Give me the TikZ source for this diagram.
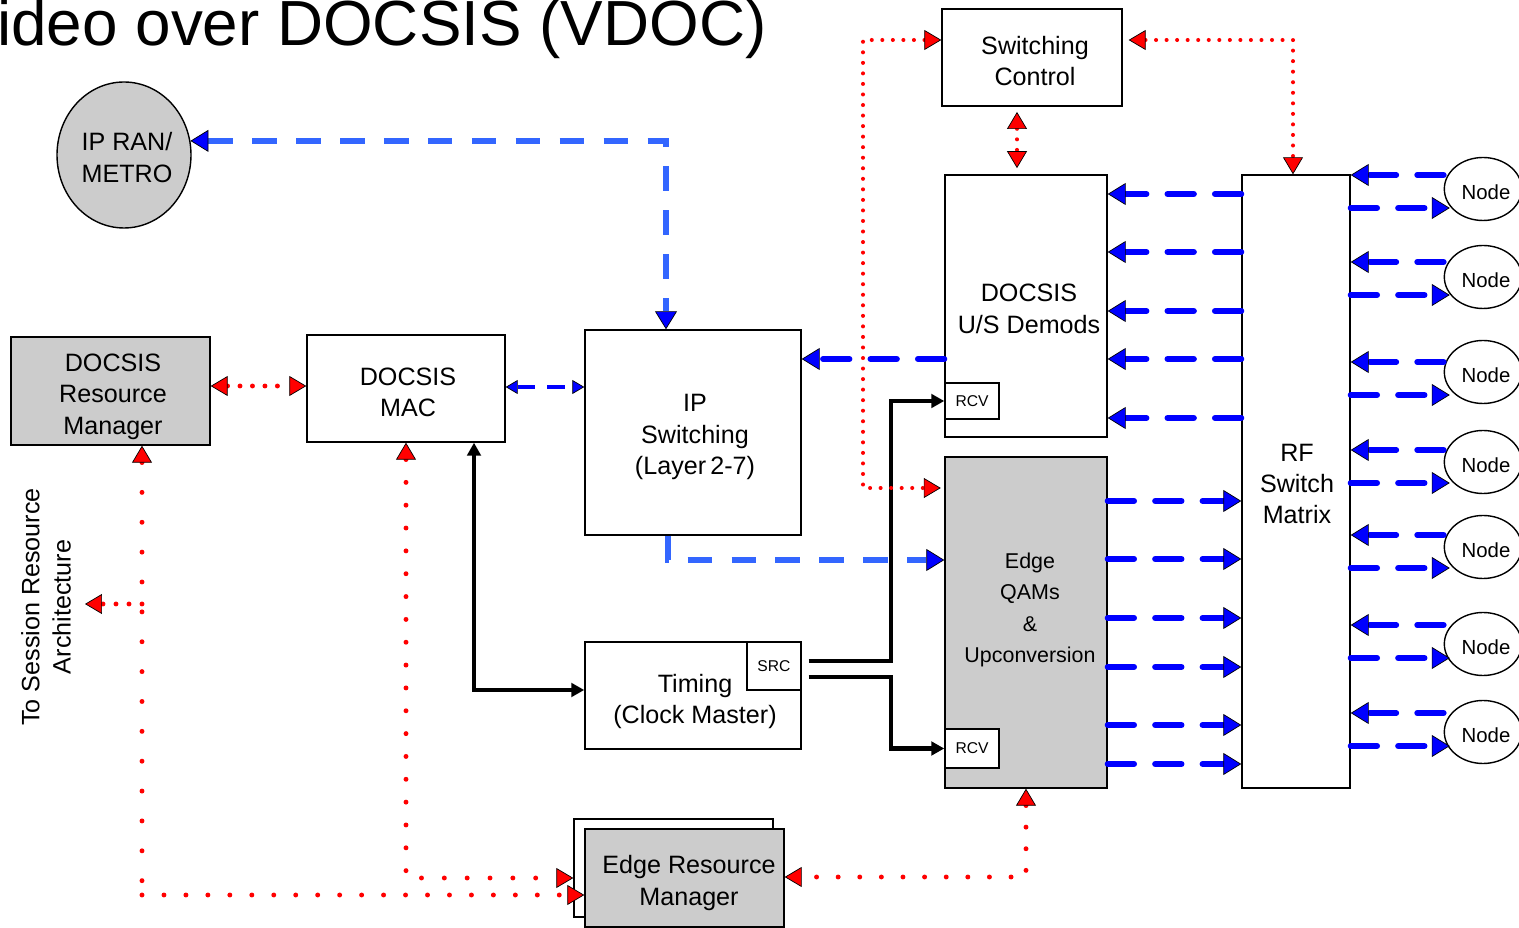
\documentclass[tikz,border=0pt]{standalone}
\usepackage{fontspec}
\setmainfont{Liberation Sans}
\usetikzlibrary{arrows.meta,shapes.geometric}

\definecolor{ltblue}{RGB}{51,102,255}
\definecolor{boxgray}{RGB}{204,204,204}
\newcommand\pxu{0.02cm}
\newcommand\mainsz{\fontsize{14.3}{17.9}\selectfont}
\newcommand\qamsz{\fontsize{12.2}{17.8}\selectfont}
\newcommand\nodesz{\fontsize{11.6}{14}\selectfont}
\newcommand\tagsz{\fontsize{8.9}{10}\selectfont}
\newcommand\titlesz{\fontsize{36.3}{40}\selectfont}

\tikzset{
  box/.style={draw, line width=0.8pt, inner sep=0pt},
  graybox/.style={box, fill=boxgray},
  btext/.style={align=center, font=\mainsz, inner sep=0pt},
  rcvbox/.style={box, fill=white, font=\tagsz, minimum width=54*\pxu},
  cnode/.style={ellipse, draw, line width=0.8pt, fill=white, inner sep=0pt,
    font=\nodesz, minimum width=70*\pxu, minimum height=63*\pxu,
    execute at begin node={\rule{0pt}{12pt}\hspace{3.4pt}}},
  bluetip/.tip={Triangle[length=0.36cm,width=0.44cm,line width=0.4pt,color=black,fill=blue]},
  redtip/.tip={Triangle[length=0.34cm,width=0.4cm,line width=0.4pt,color=black,fill=red]},
  smalltip/.tip={Triangle[length=0.24cm,width=0.28cm,line width=0.4pt,color=black,fill=blue]},
  blacktip/.tip={Triangle[length=0.26cm,width=0.27cm]},
  bluedash/.style={draw=blue, line width=3.4pt, line cap=round, dash pattern=on 15pt off 12pt},
  thinblue/.style={draw=blue, line width=2.3pt, dash pattern=on 10pt off 7pt},
  ltdash/.style={draw=ltblue, line width=3pt, dash pattern=on 14pt off 11pt},
  reddots/.style={draw=red, line width=2.8pt, line cap=round, dash pattern=on 0pt off #1},
  reddots/.default=12.5pt,
  finedots/.style={draw=red, line width=2.3pt, line cap=round, dash pattern=on 0pt off 6pt},
  blackline/.style={draw=black, line width=2.8pt},
}

\begin{document}
\begin{tikzpicture}[x=0.02cm,y=-0.02cm]
  \useasboundingbox (0,0) rectangle (1519,928);
  \clip (0,0) rectangle (1519,928);

  % title
  \node[anchor=base west, inner sep=0pt, font=\titlesz] (title) at (-3,46) {ideo over DOCSIS (VDOC)};

  % left side
  \node[ellipse, graybox, minimum width=134*\pxu, minimum height=146*\pxu] (ipran) at (124,155) {};
  \node[btext] (ipran-t) at (127,157.5) {IP RAN/\\METRO};
  \node[graybox, minimum width=199*\pxu, minimum height=108*\pxu] (drm) at (110.5,391) {};
  \node[btext] (drm-t) at (113,396.5) {DOCSIS\\Resource\\Manager};
  \node[box, minimum width=198*\pxu, minimum height=107*\pxu] (mac) at (406,388.5) {};
  \node[btext] (mac-t) at (408,392.5) {DOCSIS\\MAC};
  \node[btext, rotate=90] (sra-t) at (46,607) {To Session Resource\\Architecture};

  % middle
  \node[box, minimum width=216*\pxu, minimum height=205*\pxu] (ipsw) at (693,432.5) {};
  \node[btext] (ipsw-t) at (695,437) {IP\\Switching\\(Layer\,2-7)};
  \node[box, minimum width=216*\pxu, minimum height=107*\pxu] (timing) at (693,695.5) {};
  \node[btext] (timing-t) at (695,701.5) {Timing\\(Clock Master)};
  \node[rcvbox, minimum height=48*\pxu] (src) at (774,666) {SRC};
  \node[box, fill=white, minimum width=199*\pxu, minimum height=98*\pxu] (ermbk) at (673.5,868) {};
  \node[graybox, minimum width=199*\pxu, minimum height=98*\pxu] (erm) at (684.5,878) {};
  \node[btext] (erm-t) at (689,883) {Edge Resource\\Manager};

  % right side
  \node[box, minimum width=180*\pxu, minimum height=97*\pxu] (swctl) at (1032,57.5) {};
  \node[btext] (swctl-t) at (1035,61) {Switching\\Control};
  \node[box, minimum width=162*\pxu, minimum height=262*\pxu] (demod) at (1026,306) {};
  \node[btext] (demod-t) at (1029,309) {DOCSIS\\U/S Demods};
  \node[rcvbox, minimum height=36*\pxu] (rcva) at (972,401) {RCV};
  \node[graybox, minimum width=162*\pxu, minimum height=331*\pxu] (qam) at (1026,622.5) {};
  \node[btext, font=\qamsz] (qam-t) at (1030,610) {Edge\\QAMs\\\&\\Upconversion};
  \node[rcvbox, minimum height=39*\pxu] (rcvb) at (972,748.5) {RCV};
  \node[box, minimum width=108*\pxu, minimum height=613*\pxu] (rf) at (1296,481.5) {};
  \node[btext] (rf-t) at (1297,484) {RF\\Switch\\Matrix};
  \foreach \i/\y in {1/189,2/277,3/372,4/462,5/547,6/644,7/732}
    \node[cnode] (n\i) at (1483,\y) {Node};

  % blue data paths
  \draw[ltdash, bluetip-bluetip] (ipran.12) -| (ipsw.north -| 666,0);
  \draw[ltdash, -bluetip] (ipsw.south -| 668,0) |- (qam.west |- 0,560);
  \draw[thinblue, smalltip-smalltip] (mac.east |- 0,387) -- (ipsw.west |- 0,387);
  \draw[bluedash, -bluetip] (demod.west |- 0,359) -- (ipsw.east |- 0,359);
  \foreach \y in {194,252,311,359,418}
    \draw[bluedash, -bluetip] (rf.west |- 0,\y) -- (demod.east |- 0,\y);
  \foreach \y in {501,559,618,667,725,764}
    \draw[bluedash, -bluetip] (qam.east |- 0,\y) -- (rf.west |- 0,\y);
  \foreach \i/\yi/\yo in {1/175/208,2/262/295,3/362/395,4/450/483,5/535/568,6/625/658,7/713/746} {
    \draw[bluedash, -bluetip] (n\i.west |- 0,\yi) -- (rf.east |- 0,\yi);
    \draw[bluedash, -bluetip, shorten >=-3.5pt] (rf.east |- 0,\yo) -- (n\i.west |- 0,\yo);
  }

  % timing
  \draw[blackline, blacktip-blacktip] (mac.south -| 474,0) |- (timing.west |- 0,690);
  \draw[blackline, -blacktip, shorten <=4pt] (src.east |- 0,661) -| (rcva.west -| 891,0) -- (rcva.west);
  \draw[blackline, -blacktip, shorten <=4pt] (src.east |- 0,677) -| (rcvb.west -| 891,0) -- (rcvb.west);

  % control paths
  \draw[finedots, redtip-redtip, shorten >=2pt] (swctl.west |- 0,40) -| (863,488) -- (qam.west |- 0,488);
  \draw[finedots, redtip-redtip, shorten <=3pt, shorten >=3.5pt] (swctl.south -| 1017,0) -- (demod.north -| 1017,0);
  \draw[finedots, redtip-redtip, shorten <=3.4pt] (swctl.east |- 0,40) -| (rf.north -| 1293,0);
  \draw[reddots=7.1pt, redtip-redtip] (drm.east |- 0,386) -- (mac.west |- 0,386);
  \draw[reddots=12.3pt, redtip-redtip] (qam.south) |- (erm.east |- 0,877);
  \draw[reddots=13pt, redtip-redtip] (mac.south) |- (ermbk.west |- 0,878);
  \coordinate (drmturn) at (142,895);
  \draw[reddots=17pt, redtip-] (drm.south -| 142,0) -- (drmturn);
  \draw[reddots=12.5pt, -redtip] (drmturn) -- (erm.west |- 0,895);
  \coordinate (srafrom) at (142,604);
  \coordinate (srato) at (85,604);
  \draw[reddots=7.4pt, -redtip] (srafrom) -- (srato);
\end{tikzpicture}
\end{document}
